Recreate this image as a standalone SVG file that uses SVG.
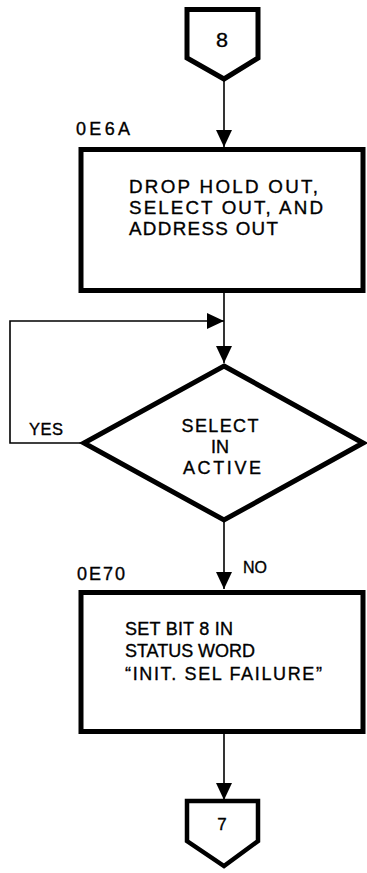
<svg xmlns="http://www.w3.org/2000/svg" width="367" height="873" viewBox="0 0 367 873">
<style>
.shape{fill:#fff;stroke:#000;stroke-width:5;stroke-linejoin:miter}
.line{fill:none;stroke:#000;stroke-width:1.6}
text{font-family:"Liberation Sans",Arial,sans-serif;fill:#000;stroke:#000;stroke-width:0.35}
.lbl{font-size:18px}
.body{font-size:18.8px}
.body2{font-size:18px}
.dtext{font-size:18px;text-anchor:middle}
</style>
<defs>
<marker id="ah" markerUnits="userSpaceOnUse" markerWidth="17" markerHeight="16" viewBox="0 0 17 16" refX="17" refY="8" orient="auto">
<path d="M0,0 L17,8 L0,16 z" fill="#000"/>
</marker>
</defs>
<g id="connectors">
<line class="line" x1="224" y1="79" x2="224" y2="147" marker-end="url(#ah)"/>
<line class="line" x1="224" y1="292" x2="224" y2="363" marker-end="url(#ah)"/>
<polyline class="line" points="83,443 10,443 10,321 224,321" marker-end="url(#ah)"/>
<line class="line" x1="224" y1="521" x2="224" y2="589" marker-end="url(#ah)"/>
<line class="line" x1="224" y1="733" x2="224" y2="800" marker-end="url(#ah)"/>
</g>
<g id="connector8">
<polygon class="shape" points="187,9.5 258,9.5 258,58 224,79 187,58"/>
<text x="222" y="47" font-size="20" text-anchor="middle" textLength="12" lengthAdjust="spacingAndGlyphs">8</text>
</g>
<g id="box1">
<text class="lbl" x="76" y="135" textLength="54" lengthAdjust="spacing">0E6A</text>
<rect class="shape" x="81" y="149.5" width="282" height="141"/>
<text class="body" x="129" y="192.5" textLength="189" lengthAdjust="spacing">DROP HOLD OUT,</text>
<text class="body" x="129" y="213.5" textLength="194" lengthAdjust="spacing">SELECT OUT, AND</text>
<text class="body" x="129" y="234.5" textLength="149" lengthAdjust="spacing">ADDRESS OUT</text>
</g>
<g id="decision">
<polygon class="shape" points="224,366 363,443 224,520 84,443"/>
<text class="dtext" x="220" y="432" textLength="77" lengthAdjust="spacing">SELECT</text>
<text class="dtext" x="220" y="453">IN</text>
<text class="dtext" x="222" y="474" textLength="78" lengthAdjust="spacing">ACTIVE</text>
<text x="29" y="435" font-size="16.5" textLength="34" lengthAdjust="spacing">YES</text>
</g>
<g id="box2">
<text class="lbl" x="77" y="580" textLength="48" lengthAdjust="spacing">0E70</text>
<text x="243" y="573" font-size="16" textLength="24" lengthAdjust="spacing">NO</text>
<rect class="shape" x="81" y="592.5" width="282" height="139"/>
<text class="body2" x="125" y="635" textLength="108" lengthAdjust="spacing">SET BIT 8 IN</text>
<text class="body2" x="125" y="657" textLength="130" lengthAdjust="spacing">STATUS WORD</text>
<text class="body2" x="125" y="680" textLength="197" lengthAdjust="spacing">“INIT. SEL FAILURE”</text>
</g>
<g id="connector7">
<polygon class="shape" style="stroke-width:4.5" points="187,801 258,801 258,841 224,866 187,841"/>
<text x="222" y="830" font-size="17" text-anchor="middle">7</text>
</g>
</svg>
